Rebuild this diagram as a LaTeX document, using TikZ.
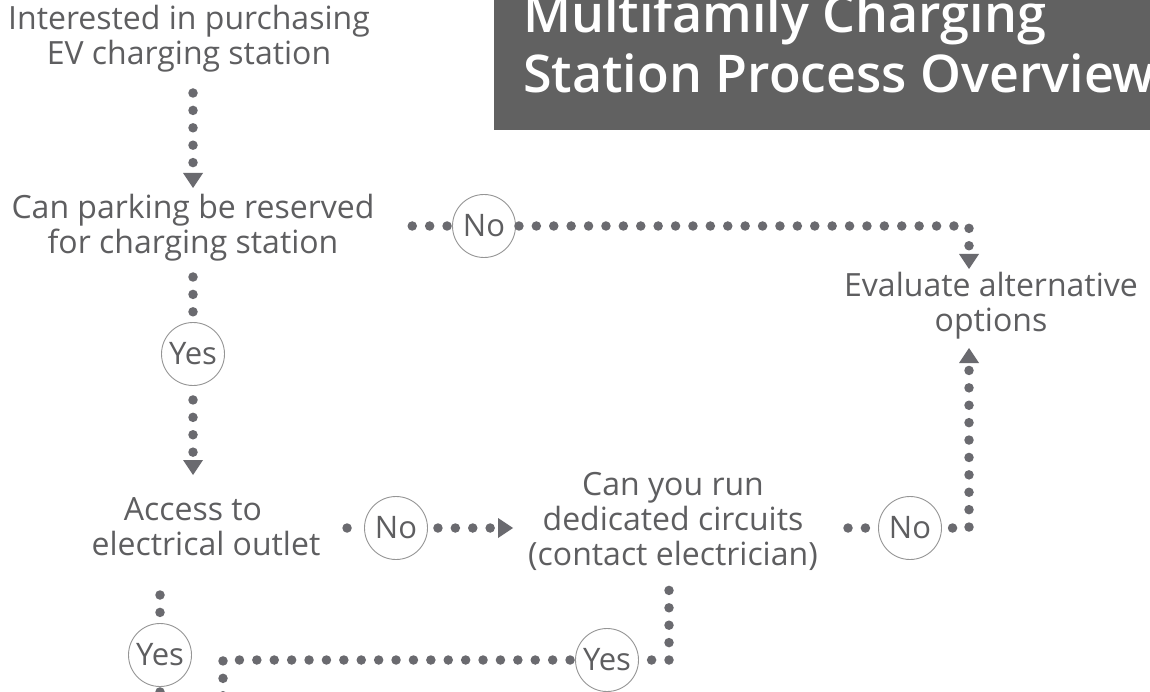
\documentclass[tikz,border=0pt]{standalone}
\usepackage{fontspec}
\setmainfont{Open Sans}
\IfFontExistsTF{Open Sans SemiBold}
  {\newfontfamily\titlefam{Open Sans SemiBold}\newcommand\titleweight{}}
  {\IfFontExistsTF{Open Sans Semibold}
    {\newfontfamily\titlefam{Open Sans Semibold}\newcommand\titleweight{}}
    {\newfontfamily\titlefam{Open Sans}\newcommand\titleweight{\bfseries}}}
\usetikzlibrary{arrows.meta,calc}
\definecolor{txt}{HTML}{5E5E60}
\definecolor{dotc}{HTML}{6A6A6F}
\definecolor{ring}{HTML}{959595}
\definecolor{titlebg}{HTML}{616161}
\tikzset{
  txtnode/.style={text=txt, font=\fontsize{32}{35}\selectfont, align=center, inner sep=0pt, anchor=base},
  circ/.style={circle, draw=ring, line width=0.9pt, minimum size=63pt, inner sep=0pt, text=txt, font=\fontsize{31}{30}\selectfont},
  dotline/.style={draw=dotc, line width=9.5pt, line cap=round, dash pattern=on 0pt off 17.4pt},
  dotarrow/.style={dotline, -{Triangle[width=20pt,length=15pt,line width=0pt]}},
}
\begin{document}
\begin{tikzpicture}[x=1pt,y=-1pt]
\useasboundingbox (0,0) rectangle (1150,692);
\clip (0,0) rectangle (1150,692);
\fill[white] (0,0) rectangle (1150,692);
% title
\node[fill=titlebg, minimum width=680pt, minimum height=140pt, anchor=south west, inner sep=0pt] (titlebox) at (494,130) {};
\node[anchor=base west, align=left, inner sep=0pt, text=white, font=\titlefam\titleweight\fontsize{52}{60}\selectfont] (title) at (523,93) {Multifamily Charging\\Station Process Overview};
% text nodes (base = baseline of last line)
\node[txtnode] (A) at (189,65) {Interested in purchasing\\EV charging station};
\node[txtnode] (B) at (193,254) {Can parking be reserved\\for charging station};
\node[txtnode] (E) at (991,331) {Evaluate alternative\\options};
\node[txtnode] (C) at (206,555) {Access to\hbox to 26pt{}\\electrical outlet};
\node[txtnode] (D) at (673,565) {Can you run\\dedicated circuits\\(contact electrician)};
% decision circles
\node[circ] (no1) at (484,226) {No};
\node[circ] (yes1) at (193,354) {Yes};
\node[circ] (no2) at (396,528) {No};
\node[circ] (no3) at (910,528) {No};
\node[circ] (yes2) at (160,655) {Yes};
\node[circ] (yes3) at (607,660) {Yes};
\coordinate (off1) at (160,740);
\coordinate (off2) at (223,740);
% connectors
\draw[dotarrow] ($(A.base)+(4,28)$) -- ($(B.base)+(0,-66)$);
\draw[dotline] ([xshift=-5pt]no1.west) -- ($(B.base)+(202,-28)$);
\draw[dotarrow] ([xshift=3pt]no1.east) -| ($(E.base)+(-22,-62)$);
\draw[dotline] ($(B.base)+(0,23)$) -- ([yshift=5pt]yes1.north);
\draw[dotarrow] ([yshift=-14pt]yes1.south) -- ($(C.base)+(-13,-80)$);
\draw[dotline] ([xshift=-17pt]no2.west) -- ($(C.base)+(126,-27)$);
\draw[dotarrow] ([xshift=10pt]no2.east) -- ($(D.base)+(-160,-37)$);
\draw[dotline] ($(D.base)+(175,-37)$) -- ([xshift=-11pt]no3.west);
\draw[dotarrow] ([xshift=10.6pt]no3.east) -| ($(E.base)+(-22,17)$);
\draw[dotline] ($(C.base)+(-46,40)$) -- ([yshift=4pt]yes2.north);
\draw[dotline] ([yshift=-5pt]yes2.south) -- (off1);
\draw[dotline] ($(D.base)+(-4,25.4)$) |- ([xshift=5pt]yes3.east);
\draw[dotline] ([xshift=-5pt]yes3.west) -| (off2);
\end{tikzpicture}
\end{document}
